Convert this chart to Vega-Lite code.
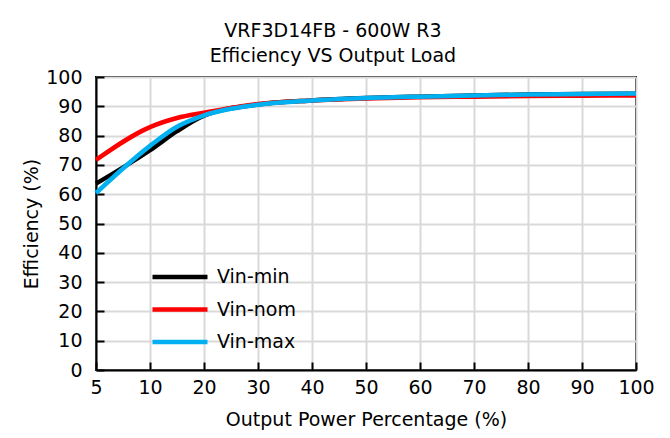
{
  "$schema": "https://vega.github.io/schema/vega-lite/v6.json",
  "width": 540,
  "height": 293,
  "autosize": "none",
  "padding": {"left": 96, "top": 77, "right": 34, "bottom": 68},
  "background": "white",
  "config": {
    "font": "DejaVu Sans",
    "view": {"stroke": "#000000", "strokeWidth": 2}
  },
  "title": {
    "text": ["VRF3D14FB - 600W R3", "Efficiency VS Output Load"],
    "fontSize": 19,
    "fontWeight": "normal",
    "color": "#000000",
    "lineHeight": 25,
    "anchor": "middle",
    "dx": -33,
    "offset": 2
  },
  "data": {
    "values": [
      {"load": 5, "eff": 63.6, "series": "Vin-min"},
      {"load": 10, "eff": 75.0, "series": "Vin-min"},
      {"load": 15, "eff": 81.5, "series": "Vin-min"},
      {"load": 20, "eff": 86.8, "series": "Vin-min"},
      {"load": 30, "eff": 90.6, "series": "Vin-min"},
      {"load": 40, "eff": 92.0, "series": "Vin-min"},
      {"load": 50, "eff": 92.8, "series": "Vin-min"},
      {"load": 60, "eff": 93.3, "series": "Vin-min"},
      {"load": 70, "eff": 93.7, "series": "Vin-min"},
      {"load": 80, "eff": 94.0, "series": "Vin-min"},
      {"load": 90, "eff": 94.2, "series": "Vin-min"},
      {"load": 100, "eff": 94.3, "series": "Vin-min"},
      {"load": 5, "eff": 71.7, "series": "Vin-nom"},
      {"load": 10, "eff": 82.9, "series": "Vin-nom"},
      {"load": 15, "eff": 86.0, "series": "Vin-nom"},
      {"load": 20, "eff": 87.8, "series": "Vin-nom"},
      {"load": 30, "eff": 90.8, "series": "Vin-nom"},
      {"load": 40, "eff": 92.0, "series": "Vin-nom"},
      {"load": 50, "eff": 92.7, "series": "Vin-nom"},
      {"load": 60, "eff": 93.1, "series": "Vin-nom"},
      {"load": 70, "eff": 93.3, "series": "Vin-nom"},
      {"load": 80, "eff": 93.5, "series": "Vin-nom"},
      {"load": 90, "eff": 93.6, "series": "Vin-nom"},
      {"load": 100, "eff": 93.7, "series": "Vin-nom"},
      {"load": 5, "eff": 60.4, "series": "Vin-max"},
      {"load": 10, "eff": 76.5, "series": "Vin-max"},
      {"load": 15, "eff": 83.0, "series": "Vin-max"},
      {"load": 20, "eff": 86.9, "series": "Vin-max"},
      {"load": 30, "eff": 90.5, "series": "Vin-max"},
      {"load": 40, "eff": 92.0, "series": "Vin-max"},
      {"load": 50, "eff": 92.8, "series": "Vin-max"},
      {"load": 60, "eff": 93.3, "series": "Vin-max"},
      {"load": 70, "eff": 93.7, "series": "Vin-max"},
      {"load": 80, "eff": 94.0, "series": "Vin-max"},
      {"load": 90, "eff": 94.2, "series": "Vin-max"},
      {"load": 100, "eff": 94.4, "series": "Vin-max"}
    ]
  },
  "mark": {"type": "line", "interpolate": "monotone", "strokeWidth": 4.5},
  "encoding": {
    "x": {
      "field": "load",
      "type": "quantitative",
      "scale": {"domain": [5, 10, 100], "range": [0, 54, 540], "nice": false, "zero": false},
      "axis": {
        "title": "Output Power Percentage (%)",
        "values": [5, 10, 20, 30, 40, 50, 60, 70, 80, 90, 100],
        "grid": true,
        "gridColor": "#d9d9d9",
        "gridWidth": 2,
        "gridOpacity": 1,
        "domainColor": "#000000",
        "domainWidth": 2,
        "tickColor": "#000000",
        "tickWidth": 2,
        "tickSize": -8,
        "labelPadding": 16,
        "labelFontSize": 19,
        "labelColor": "#000000",
        "labelFlush": false,
        "labelOverlap": false,
        "titleFontSize": 19,
        "titleFontWeight": "normal",
        "titleColor": "#000000",
        "titlePadding": 13
      }
    },
    "y": {
      "field": "eff",
      "type": "quantitative",
      "scale": {"domain": [0, 100], "nice": false},
      "axis": {
        "title": "Efficiency (%)",
        "values": [0, 10, 20, 30, 40, 50, 60, 70, 80, 90, 100],
        "grid": true,
        "gridColor": "#d9d9d9",
        "gridWidth": 2,
        "gridOpacity": 1,
        "domainColor": "#000000",
        "domainWidth": 2,
        "tickColor": "#000000",
        "tickWidth": 2,
        "tickSize": -8,
        "labelPadding": 22,
        "labelFontSize": 19,
        "labelColor": "#000000",
        "labelFlush": false,
        "labelOverlap": false,
        "titleFontSize": 19,
        "titleFontWeight": "normal",
        "titleColor": "#000000",
        "titlePadding": 4
      }
    },
    "color": {
      "field": "series",
      "type": "nominal",
      "sort": ["Vin-min", "Vin-nom", "Vin-max"],
      "scale": {"domain": ["Vin-min", "Vin-nom", "Vin-max"], "range": ["#000000", "#ff0000", "#00b0f0"]},
      "legend": {
        "title": null,
        "orient": "none",
        "legendX": 68,
        "legendY": 184,
        "symbolType": "M-2,0H2",
        "symbolSize": 756,
        "symbolStrokeWidth": 4.5,
        "labelFontSize": 19,
        "labelColor": "#000000",
        "labelOffset": 21,
        "rowPadding": 6.5
      }
    },
    "order": {"field": "series", "sort": "descending"}
  }
}
